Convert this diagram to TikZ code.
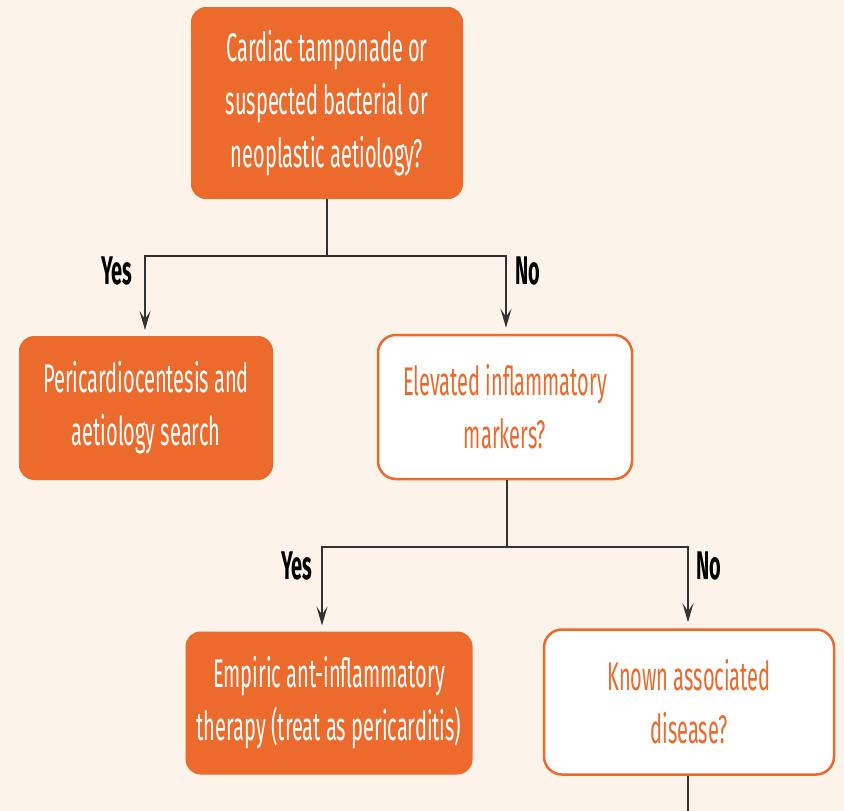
\documentclass[tikz,border=0pt]{standalone}
\usepackage{fontspec}
\setmainfont{Fira Sans}[FakeStretch=0.5]
\usetikzlibrary{arrows.meta}
\definecolor{bg}{HTML}{FCF3EA}
\definecolor{org}{HTML}{EC6A2C}
\definecolor{ln}{HTML}{333333}
\tikzset{
  filledbox/.style={draw=org, fill=org, line width=2pt, rounded corners=14pt, text=white, align=center, font=\fontsize{40}{53}\selectfont, inner sep=0pt},
  openbox/.style={draw=org, fill=white, line width=2.5pt, rounded corners=18pt, text=org, align=center, font=\fontsize{40}{53}\selectfont, inner sep=0pt},
  conn/.style={draw=ln, line width=1.4pt},
  arr/.style={conn, -{Stealth[length=19pt, width=11pt, inset=8pt]}, shorten >=6pt},
  lab/.style={font=\bfseries\fontsize{40}{44}\selectfont, text=black, inner sep=0pt}
}
\begin{document}
\begin{tikzpicture}[x=1pt, y=-1pt]
\fill[bg] (0,0) rectangle (844,811);
\useasboundingbox (0,0) rectangle (844,811);
\node[filledbox, minimum width=270pt, minimum height=190pt] (top) at (327,103) {Cardiac tamponade or\\suspected bacterial or\\neoplastic aetiology?};
\node[filledbox, minimum width=252pt, minimum height=142pt] (left) at (146,408) {Pericardiocentesis and\\aetiology search};
\node[openbox, minimum width=254pt, minimum height=144pt] (mid) at (505,407) {Elevated inflammatory\\markers?};
\node[filledbox, minimum width=285pt, minimum height=141pt] (bl) at (329,703) {Empiric ant-inflammatory\\therapy (treat as pericarditis)};
\node[openbox, minimum width=290pt, minimum height=145pt] (br) at (689,702) {Known associated\\disease?};
\coordinate (j1) at (327,256);
\coordinate (j2) at (507,547);
\coordinate (bend) at (688,811);
\draw[conn] (top.south) -- (j1);
\draw[arr] (j1) -| ([xshift=-1pt]left.north);
\draw[arr] (j1) -| ([xshift=1pt]mid.north);
\draw[conn] ([xshift=2pt]mid.south) -- (j2);
\draw[arr] (j2) -| ([xshift=-7pt]bl.north);
\draw[arr] (j2) -| ([xshift=-1pt]br.north);
\draw[conn] ([xshift=-1pt]br.south) -- (bend);
\node[lab] (y1) at (117,271) {Yes};
\node[lab] (n1) at (528,271) {No};
\node[lab] (y2) at (297,566) {Yes};
\node[lab] (n2) at (709,566) {No};
\end{tikzpicture}
\end{document}
